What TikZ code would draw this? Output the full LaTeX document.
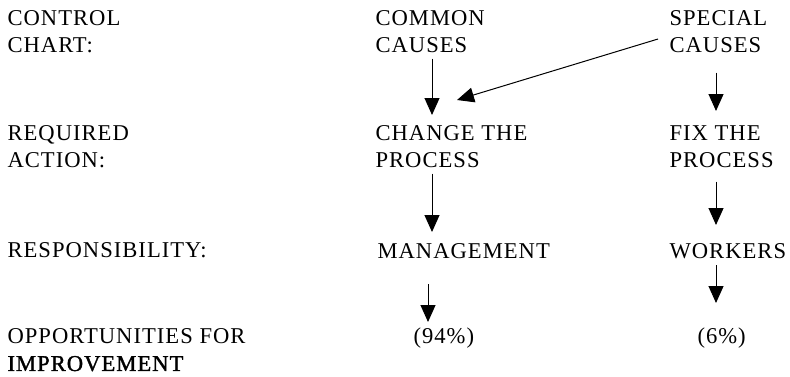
\documentclass[tikz,border=0pt]{standalone}
\usepackage{fontspec}
\setmainfont[LetterSpace=4.5]{Liberation Serif}
\newfontfamily\heavyserif[LetterSpace=4.5,FakeBold=1.5]{Liberation Serif}
\usetikzlibrary{arrows.meta}

\begin{document}
\begin{tikzpicture}[
	x = 0.5pt, y = -0.5pt, % one unit per pixel, y grows downwards
	> = {Triangle[length=8.5pt, width=7.5pt]}, % arrow head style
	line width = 0.5pt % thin connectors
	]
	
	\tikzstyle{every node}=[
	inner sep = 0pt,
	anchor = north west,
	align = left,
	font = \fontsize{11.3}{13.75}\selectfont
	]
	\tikzstyle{flow}=[->]
	
	\useasboundingbox (0,0) rectangle (790,376);
	
	% row labels
	\node (chart) at (7,10) {CONTROL\\CHART:};
	\node (action) at (7,125) {REQUIRED\\ACTION:};
	\node (resp) at (7,242) {RESPONSIBILITY:};
	\node (improve) at (7,328) {OPPORTUNITIES FOR\\{\heavyserif IMPROVEMENT}};
	
	% common causes column
	\node (common) at (375,10) {COMMON\\CAUSES};
	\node (change) at (375,125) {CHANGE THE\\PROCESS};
	\node (mgmt) at (377,243) {MANAGEMENT};
	\node[anchor=base west] (mgmtshare) at (413,343) {(94\%)};
	
	% special causes column
	\node (special) at (669,10) {SPECIAL\\CAUSES};
	\node (fix) at (669,125) {FIX THE\\PROCESS};
	\node (workers) at (669,243) {WORKERS};
	\node[anchor=base west] (workshare) at (697,343) {(6\%)};
	
	\draw[flow] ([shift={(57,5)}]common.south west) -- ([shift={(57,-10)}]change.north west);
	\draw[flow] ([shift={(-11,29)}]special.north west) -- ([shift={(82,-25)}]change.north west);
	\draw[flow] ([shift={(47,19)}]special.south west) -- ([shift={(47,-14)}]fix.north west);
	
	\draw[flow] ([shift={(57,5)}]change.south west) -- ([shift={(55,-11)}]mgmt.north west);
	\draw[flow] ([shift={(47,13)}]fix.south west) -- ([shift={(47,-18)}]workers.north west);
	
	\draw[flow] ([shift={(51,25)}]mgmt.south west) -- ([shift={(15,-21)}]mgmtshare.base west);
	\draw[flow] ([shift={(47,6)}]workers.south west) -- ([shift={(19,-40)}]workshare.base west);
	
\end{tikzpicture}
\end{document}
